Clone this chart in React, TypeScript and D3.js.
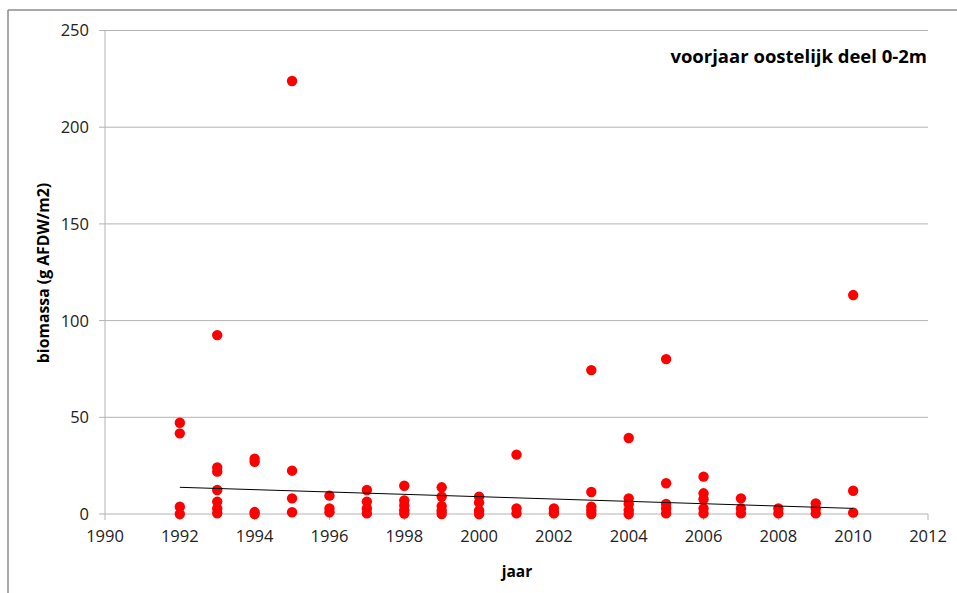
import React from "react";
import * as d3 from "d3";

const title = "voorjaar oostelijk deel 0-2m";
const xLabel = "jaar";
const yLabel = "biomassa (g AFDW/m2)";
const xTicks = [1990, 1992, 1994, 1996, 1998, 2000, 2002, 2004, 2006, 2008, 2010, 2012];
const yTicks = [0, 50, 100, 150, 200, 250];

const years = [
  1992, 1992, 1992, 1992,
  1993, 1993, 1993, 1993, 1993, 1993, 1993,
  1994, 1994, 1994, 1994,
  1995, 1995, 1995, 1995,
  1996, 1996, 1996,
  1997, 1997, 1997, 1997,
  1998, 1998, 1998, 1998, 1998,
  1999, 1999, 1999, 1999, 1999,
  2000, 2000, 2000, 2000,
  2001, 2001, 2001,
  2002, 2002, 2002,
  2003, 2003, 2003, 2003, 2003,
  2004, 2004, 2004, 2004, 2004,
  2005, 2005, 2005, 2005, 2005,
  2006, 2006, 2006, 2006, 2006,
  2007, 2007, 2007,
  2008, 2008,
  2009, 2009, 2009,
  2010, 2010, 2010,
];
const biomass = [
  47.2, 41.7, 3.8, 0,
  92.5, 24.1, 21.9, 12.4, 6.4, 2.9, 0.4,
  28.6, 27.0, 1.0, 0,
  223.9, 22.4, 8.1, 0.9,
  9.5, 2.9, 0.9,
  12.4, 6.4, 2.9, 0.3,
  14.6, 7.0, 4.4, 2.0, 0.2,
  13.8, 9.0, 4.1, 1.7, 0,
  9.0, 5.9, 1.7, 0,
  30.7, 2.9, 0.3,
  2.9, 1.0, 0.3,
  74.4, 11.4, 3.8, 1.8, 0,
  39.3, 8.1, 5.2, 2.0, 0,
  80.1, 15.9, 5.2, 2.9, 0.3,
  19.3, 10.7, 7.6, 2.9, 0.3,
  8.1, 2.9, 0.3,
  2.9, 0.3,
  5.5, 2.9, 0.3,
  113.2, 12.0, 0.7,
];
const trendYears = [1992, 2010];
const trendValues = [13.8, 2.9];

const W = 957;
const H = 593;
const M = { left: 105, right: 928, top: 30.5, bottom: 514 };

export default function App() {
  const x = d3.scaleLinear().domain([1990, 2012]).range([M.left, M.right]);
  const y = d3.scaleLinear().domain([0, 250]).range([M.bottom, M.top]);
  const line = d3
    .line<number>()
    .x((_, i) => x(trendYears[i]))
    .y((d) => y(d));
  const font = "'Open Sans', 'Liberation Sans', sans-serif";
  const gridColor = "#b3b3b3";
  return (
    <svg
      width={W}
      height={H}
      style={{ position: "absolute", left: 0, top: 0, background: "#fff" }}
      fontFamily={font}
    >
      <rect x={0} y={0} width={W} height={H} fill="#fff" />
      {/* outer border */}
      <line x1={8} y1={10} x2={W} y2={10} stroke="#8c8c8c" strokeWidth={1.5} />
      <line x1={8} y1={10} x2={8} y2={H} stroke="#8c8c8c" strokeWidth={1.5} />

      {/* gridlines and y ticks */}
      {yTicks.map((t) => (
        <g key={t}>
          {t > 0 && (
            <line x1={M.left} x2={M.right} y1={y(t)} y2={y(t)} stroke={gridColor} strokeWidth={1} />
          )}
          <line x1={M.left - 6} x2={M.left} y1={y(t)} y2={y(t)} stroke={gridColor} strokeWidth={1} />
          <text x={M.left - 16} y={y(t)} dy="0.36em" textAnchor="end" fontSize={16.5} fill="#222">
            {t}
          </text>
        </g>
      ))}
      {/* y axis */}
      <line x1={M.left} x2={M.left} y1={M.top} y2={M.bottom} stroke={gridColor} strokeWidth={1} />
      {/* x axis */}
      <line x1={M.left} x2={M.right} y1={M.bottom} y2={M.bottom} stroke={gridColor} strokeWidth={1.2} />
      {xTicks.map((t) => (
        <g key={t}>
          <line x1={x(t)} x2={x(t)} y1={M.bottom} y2={M.bottom + 6} stroke={gridColor} strokeWidth={1} />
          <text x={x(t)} y={M.bottom + 28} textAnchor="middle" fontSize={16.5} fill="#222">
            {t}
          </text>
        </g>
      ))}

      {/* points */}
      {years.map((yr, i) => (
        <circle key={i} cx={x(yr)} cy={y(biomass[i])} r={5.2} fill="#ff0000" />
      ))}

      {/* trendline */}
      <path d={line(trendValues) || ""} fill="none" stroke="#000" strokeWidth={1} />

      {/* title */}
      <text x={927} y={63} textAnchor="end" fontSize={18.5} fontWeight="bold" fill="#000">
        {title}
      </text>
      {/* axis titles */}
      <text x={517} y={577} textAnchor="middle" fontSize={15.5} fontWeight="bold" fill="#000">
        {xLabel}
      </text>
      <text
        transform={`translate(49, 273) rotate(-90)`}
        textAnchor="middle"
        fontSize={15.8}
        fontWeight="bold"
        fill="#000"
      >
        {yLabel}
      </text>
    </svg>
  );
}
